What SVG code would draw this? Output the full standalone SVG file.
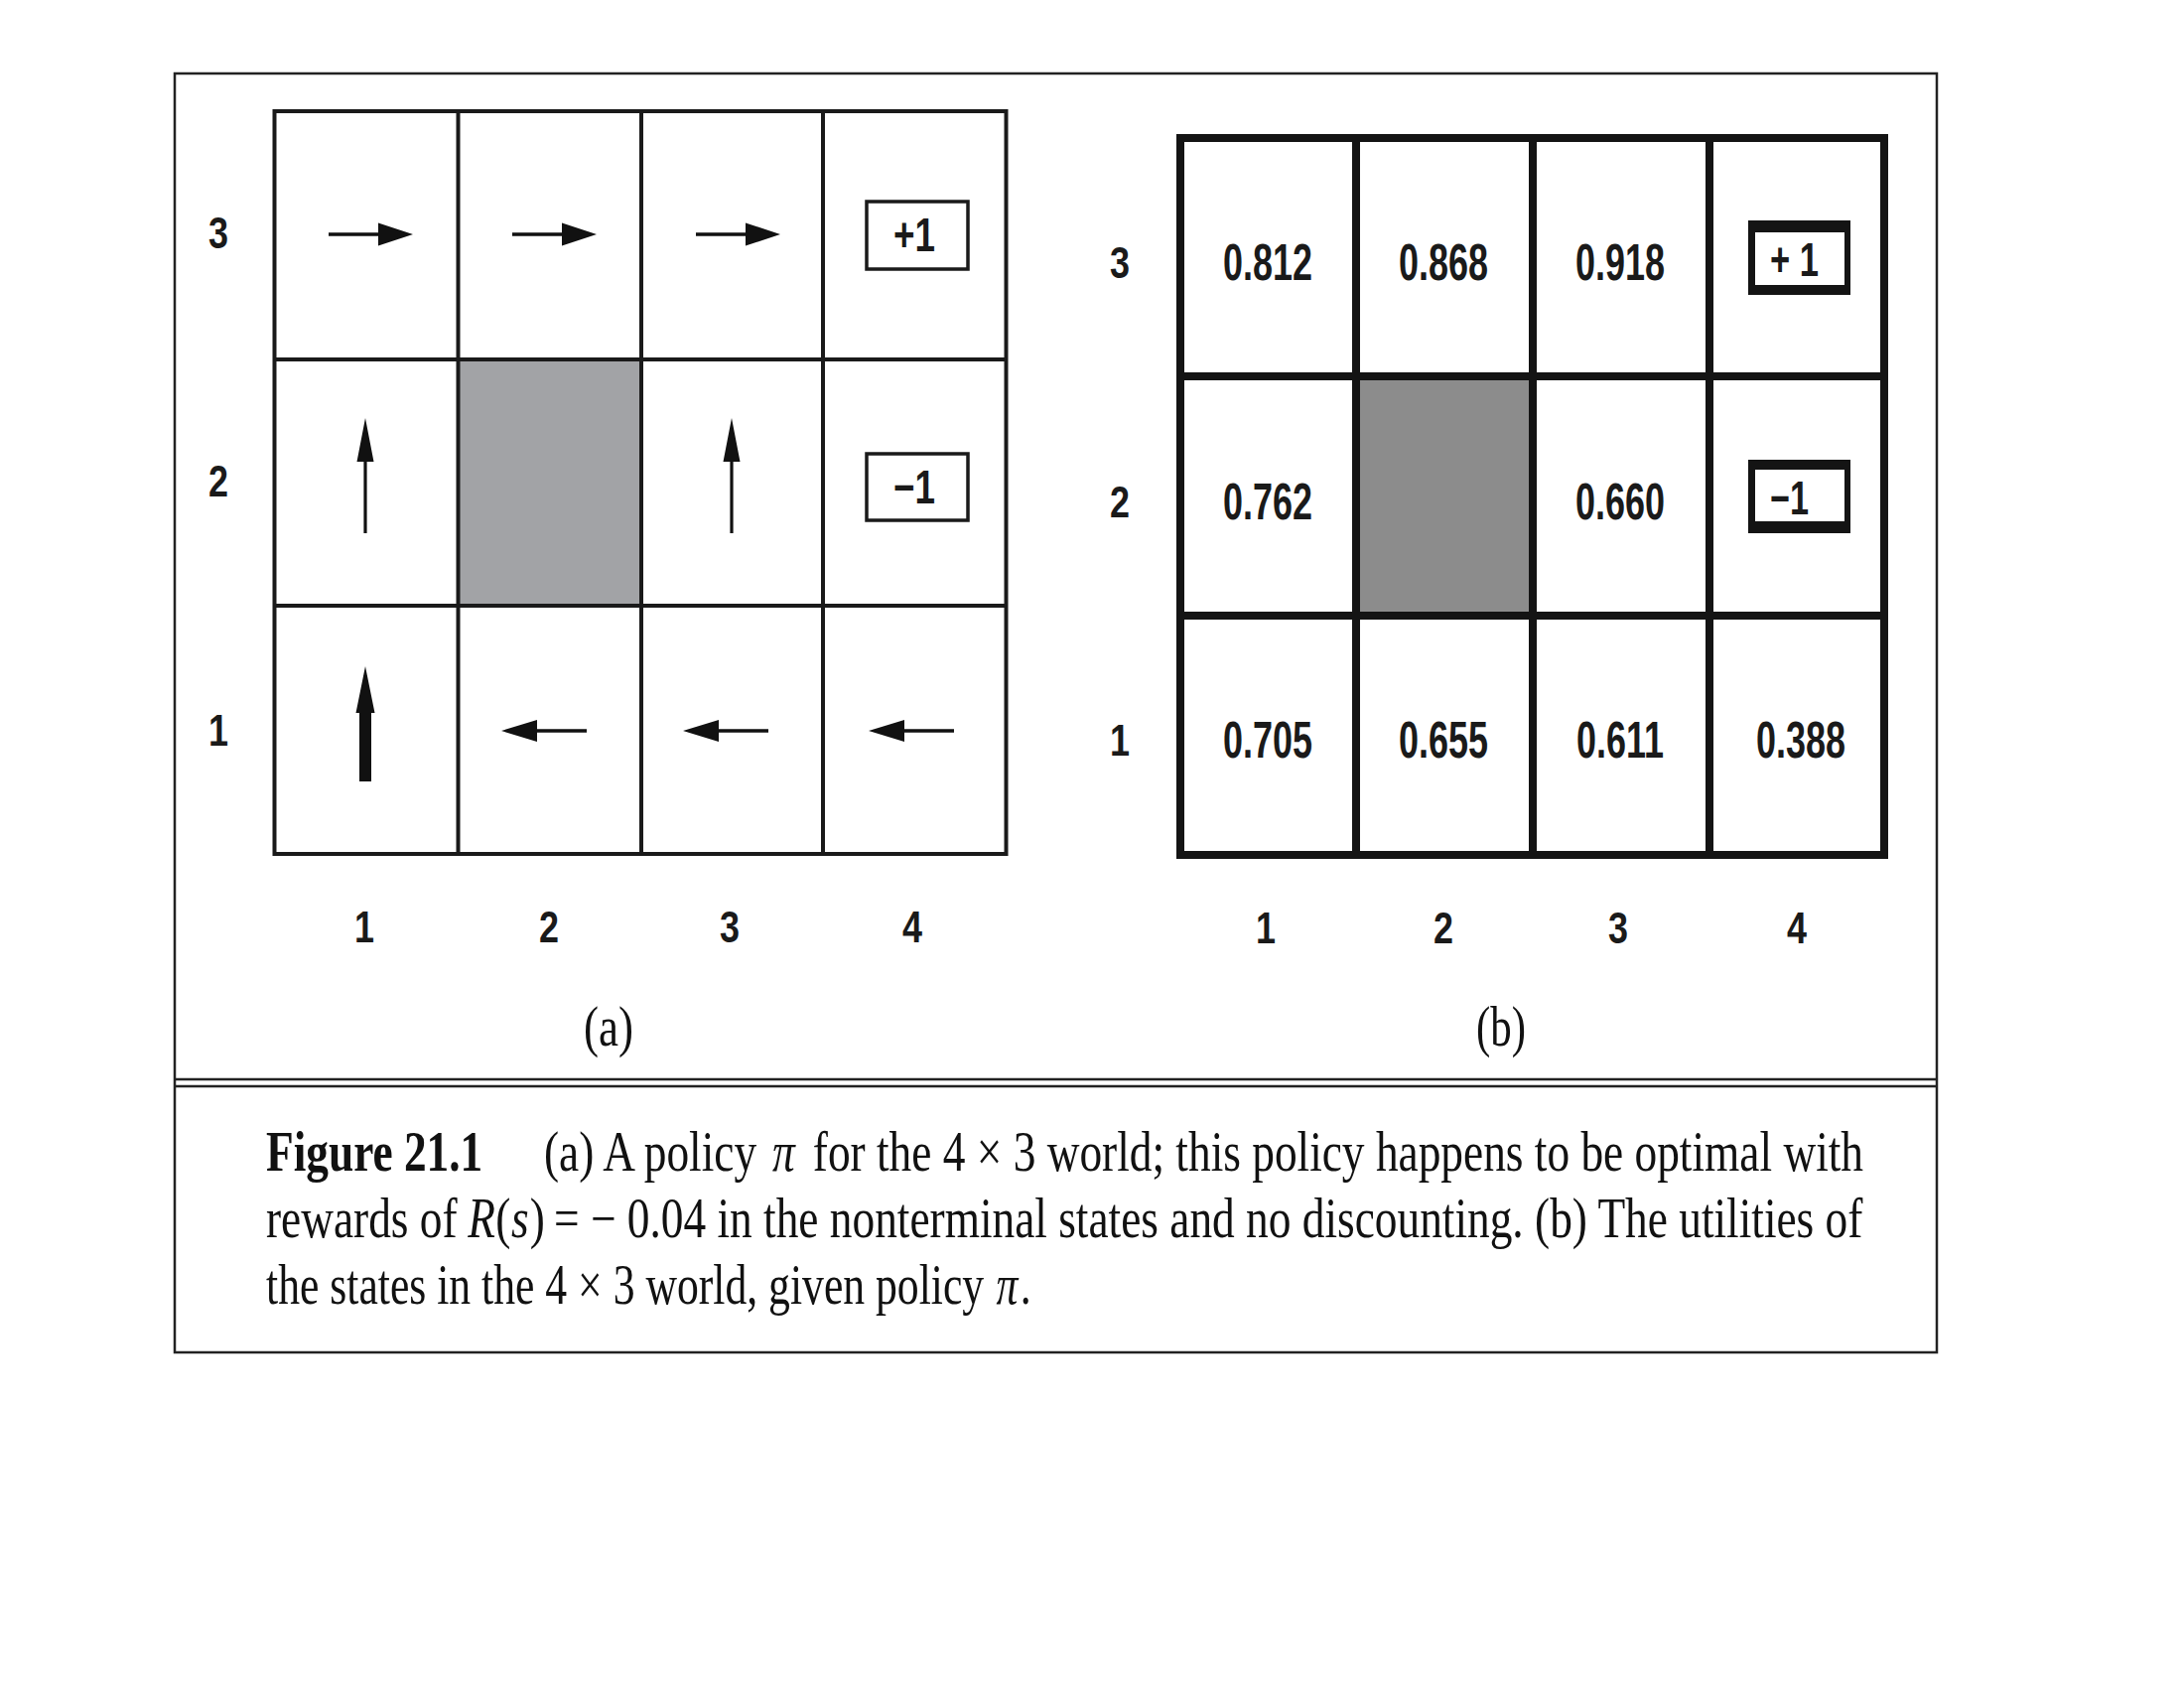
<svg xmlns="http://www.w3.org/2000/svg" xmlns:xlink="http://www.w3.org/1999/xlink" width="2200" height="1700" viewBox="0 0 2200 1700">
  <style>
    .frame { fill: none; stroke: #222; stroke-width: 2.5; }
    .rule { stroke: #222; stroke-width: 2.5; }
    .gridA { stroke: #1a1a1a; stroke-width: 4; fill: none; }
    .gridB { stroke: #141414; stroke-width: 8; fill: none; }
    .arrow { fill: #111; stroke: none; }
    .lbl { font-family: "Liberation Sans", Arial, sans-serif; font-weight: bold; font-size: 45px; fill: #1a1a1a; text-anchor: middle; }
    .num { font-family: "Liberation Sans", Arial, sans-serif; font-weight: bold; font-size: 52px; fill: #1a1a1a; text-anchor: middle; }
    .term { font-family: "Liberation Sans", Arial, sans-serif; font-weight: bold; font-size: 48px; fill: #1a1a1a; }
    .cap { font-family: "Liberation Serif", "Times New Roman", serif; font-size: 56px; fill: #111; }
    .capb { font-family: "Liberation Serif", "Times New Roman", serif; font-size: 56px; font-weight: bold; fill: #111; }
    .it { font-style: italic; }
    .sub { font-family: "Liberation Serif", "Times New Roman", serif; font-size: 56px; fill: #111; text-anchor: middle; }
  </style>
  <defs>
    <path id="arrR" d="M0,-1.8 H50 V-11.5 L85,0 L50,11.5 V1.8 H0 Z"/>
    <path id="arrL" d="M0,0 L36,-11 V-1.8 H86 V1.8 H36 V11 Z"/>
    <path id="arrU" d="M0,0 L8.5,44 H1.6 V116 H-1.6 V44 H-8.5 Z"/>
    <path id="arrUThick" d="M0,0 L9.5,47 H6 V116 H-6 V47 H-9.5 Z"/>
  </defs>

  <rect width="2200" height="1700" fill="#ffffff"/>

  <!-- outer frame -->
  <g id="frame">
    <rect class="frame" x="176" y="74" width="1775" height="1288"/>
    <line class="rule" x1="176" y1="1087" x2="1951" y2="1087"/>
    <line class="rule" x1="176" y1="1094" x2="1951" y2="1094"/>
  </g>

  <!-- (a) policy grid -->
  <g id="gridA">
    <rect id="a-obstacle" x="461.5" y="362" width="184.5" height="248" fill="#a2a3a6"/>
    <g class="gridA">
      <rect x="276.5" y="112" width="737" height="748"/>
      <line x1="461.5" y1="112" x2="461.5" y2="860"/>
      <line x1="646" y1="112" x2="646" y2="860"/>
      <line x1="829" y1="112" x2="829" y2="860"/>
      <line x1="276.5" y1="362" x2="1013.5" y2="362"/>
      <line x1="276.5" y1="610" x2="1013.5" y2="610"/>
    </g>
    <g id="a-cell-1-3"><use href="#arrR" class="arrow" x="331" y="236"/></g>
    <g id="a-cell-2-3"><use href="#arrR" class="arrow" x="516" y="236"/></g>
    <g id="a-cell-3-3"><use href="#arrR" class="arrow" x="701" y="236"/></g>
    <g id="a-cell-4-3">
      <rect x="873" y="203" width="102" height="68" fill="#fff" stroke="#1a1a1a" stroke-width="3.5"/>
      <text class="term" x="921" y="253" text-anchor="middle" textLength="42" lengthAdjust="spacingAndGlyphs">+1</text>
    </g>
    <g id="a-cell-1-2"><use href="#arrU" class="arrow" x="368" y="421"/></g>
    <g id="a-cell-3-2"><use href="#arrU" class="arrow" x="737" y="421"/></g>
    <g id="a-cell-4-2">
      <rect x="873" y="457" width="102" height="67" fill="#fff" stroke="#1a1a1a" stroke-width="3.5"/>
      <text class="term" x="921" y="507" text-anchor="middle" textLength="42" lengthAdjust="spacingAndGlyphs">−1</text>
    </g>
    <g id="a-cell-1-1"><use href="#arrUThick" class="arrow" x="368" y="671"/></g>
    <g id="a-cell-2-1"><use href="#arrL" class="arrow" x="505" y="736"/></g>
    <g id="a-cell-3-1"><use href="#arrL" class="arrow" x="688" y="736"/></g>
    <g id="a-cell-4-1"><use href="#arrL" class="arrow" x="875" y="736"/></g>

    <g id="a-row-labels">
      <text class="lbl" x="220" y="250" textLength="20" lengthAdjust="spacingAndGlyphs">3</text>
      <text class="lbl" x="220" y="500" textLength="20" lengthAdjust="spacingAndGlyphs">2</text>
      <text class="lbl" x="220" y="751" textLength="20" lengthAdjust="spacingAndGlyphs">1</text>
    </g>
    <g id="a-col-labels">
      <text class="lbl" x="367" y="949" textLength="20" lengthAdjust="spacingAndGlyphs">1</text>
      <text class="lbl" x="553" y="949" textLength="20" lengthAdjust="spacingAndGlyphs">2</text>
      <text class="lbl" x="735" y="949" textLength="20" lengthAdjust="spacingAndGlyphs">3</text>
      <text class="lbl" x="919" y="949" textLength="20" lengthAdjust="spacingAndGlyphs">4</text>
    </g>
    <text id="a-sub" class="sub" x="613" y="1053" textLength="50" lengthAdjust="spacingAndGlyphs">(a)</text>
  </g>

  <!-- (b) utilities grid -->
  <g id="gridB">
    <rect id="b-obstacle" x="1366" y="379" width="178" height="241" fill="#8c8c8c"/>
    <g class="gridB">
      <rect x="1189" y="139" width="709" height="722"/>
      <line x1="1366" y1="139" x2="1366" y2="861"/>
      <line x1="1544" y1="139" x2="1544" y2="861"/>
      <line x1="1722" y1="139" x2="1722" y2="861"/>
      <line x1="1189" y1="379" x2="1898" y2="379"/>
      <line x1="1189" y1="620" x2="1898" y2="620"/>
    </g>
    <g id="b-cell-1-3"><text class="num" x="1277" y="282" textLength="90" lengthAdjust="spacingAndGlyphs">0.812</text></g>
    <g id="b-cell-2-3"><text class="num" x="1454" y="282" textLength="90" lengthAdjust="spacingAndGlyphs">0.868</text></g>
    <g id="b-cell-3-3"><text class="num" x="1632" y="282" textLength="90" lengthAdjust="spacingAndGlyphs">0.918</text></g>
    <g id="b-cell-4-3">
      <path d="M1761,222 H1864 V297 H1761 Z M1768,234 V287 H1858 V234 Z" fill="#141414" fill-rule="evenodd"/>
      <text class="term" x="1783" y="278" textLength="49" lengthAdjust="spacingAndGlyphs">+ 1</text>
    </g>
    <g id="b-cell-1-2"><text class="num" x="1277" y="523" textLength="90" lengthAdjust="spacingAndGlyphs">0.762</text></g>
    <g id="b-cell-3-2"><text class="num" x="1632" y="523" textLength="90" lengthAdjust="spacingAndGlyphs">0.660</text></g>
    <g id="b-cell-4-2">
      <path d="M1761,463 H1864 V537 H1761 Z M1768,473 V525 H1858 V473 Z" fill="#141414" fill-rule="evenodd"/>
      <text class="term" x="1783" y="518" textLength="39" lengthAdjust="spacingAndGlyphs">−1</text>
    </g>
    <g id="b-cell-1-1"><text class="num" x="1277" y="763" textLength="90" lengthAdjust="spacingAndGlyphs">0.705</text></g>
    <g id="b-cell-2-1"><text class="num" x="1454" y="763" textLength="90" lengthAdjust="spacingAndGlyphs">0.655</text></g>
    <g id="b-cell-3-1"><text class="num" x="1632" y="763" textLength="88" lengthAdjust="spacingAndGlyphs">0.611</text></g>
    <g id="b-cell-4-1"><text class="num" x="1814" y="763" textLength="90" lengthAdjust="spacingAndGlyphs">0.388</text></g>

    <g id="b-row-labels">
      <text class="lbl" x="1128" y="280" textLength="20" lengthAdjust="spacingAndGlyphs">3</text>
      <text class="lbl" x="1128" y="521" textLength="20" lengthAdjust="spacingAndGlyphs">2</text>
      <text class="lbl" x="1128" y="761" textLength="20" lengthAdjust="spacingAndGlyphs">1</text>
    </g>
    <g id="b-col-labels">
      <text class="lbl" x="1275" y="950" textLength="20" lengthAdjust="spacingAndGlyphs">1</text>
      <text class="lbl" x="1454" y="950" textLength="20" lengthAdjust="spacingAndGlyphs">2</text>
      <text class="lbl" x="1630" y="950" textLength="20" lengthAdjust="spacingAndGlyphs">3</text>
      <text class="lbl" x="1810" y="950" textLength="20" lengthAdjust="spacingAndGlyphs">4</text>
    </g>
    <text id="b-sub" class="sub" x="1512" y="1053" textLength="50" lengthAdjust="spacingAndGlyphs">(b)</text>
  </g>

  <!-- caption -->
  <g id="caption">
    <g id="cap-line1" transform="translate(268 1179) scale(0.81 1)">
      <text class="capb" x="0" y="0">Figure 21.1</text>
      <text class="cap" x="345.7" y="0">(a) A policy</text>
      <text class="cap it" x="629.6" y="0">π</text>
      <text class="cap" x="680" y="0">for the 4 × 3 world; this policy happens to be optimal with</text>
    </g>
    <g id="cap-line2" transform="translate(268 1246) scale(0.81 1)">
      <text class="cap" x="0" y="0">rewards of</text>
      <text class="cap it" x="251" y="0">R</text>
      <text class="cap" x="285.5" y="0">(</text>
      <text class="cap it" x="305" y="0">s</text>
      <text class="cap" x="328" y="0">)</text>
      <text class="cap" x="358" y="0">= − 0.04 in the nonterminal states and no discounting. (b) The utilities of</text>
    </g>
    <g id="cap-line3" transform="translate(268 1313) scale(0.78 1)">
      <text class="cap" x="0" y="0">the states in the 4 × 3 world, given policy</text>
      <text class="cap it" x="943" y="0">π</text>
      <text class="cap" x="974" y="0">.</text>
    </g>
  </g>
</svg>
